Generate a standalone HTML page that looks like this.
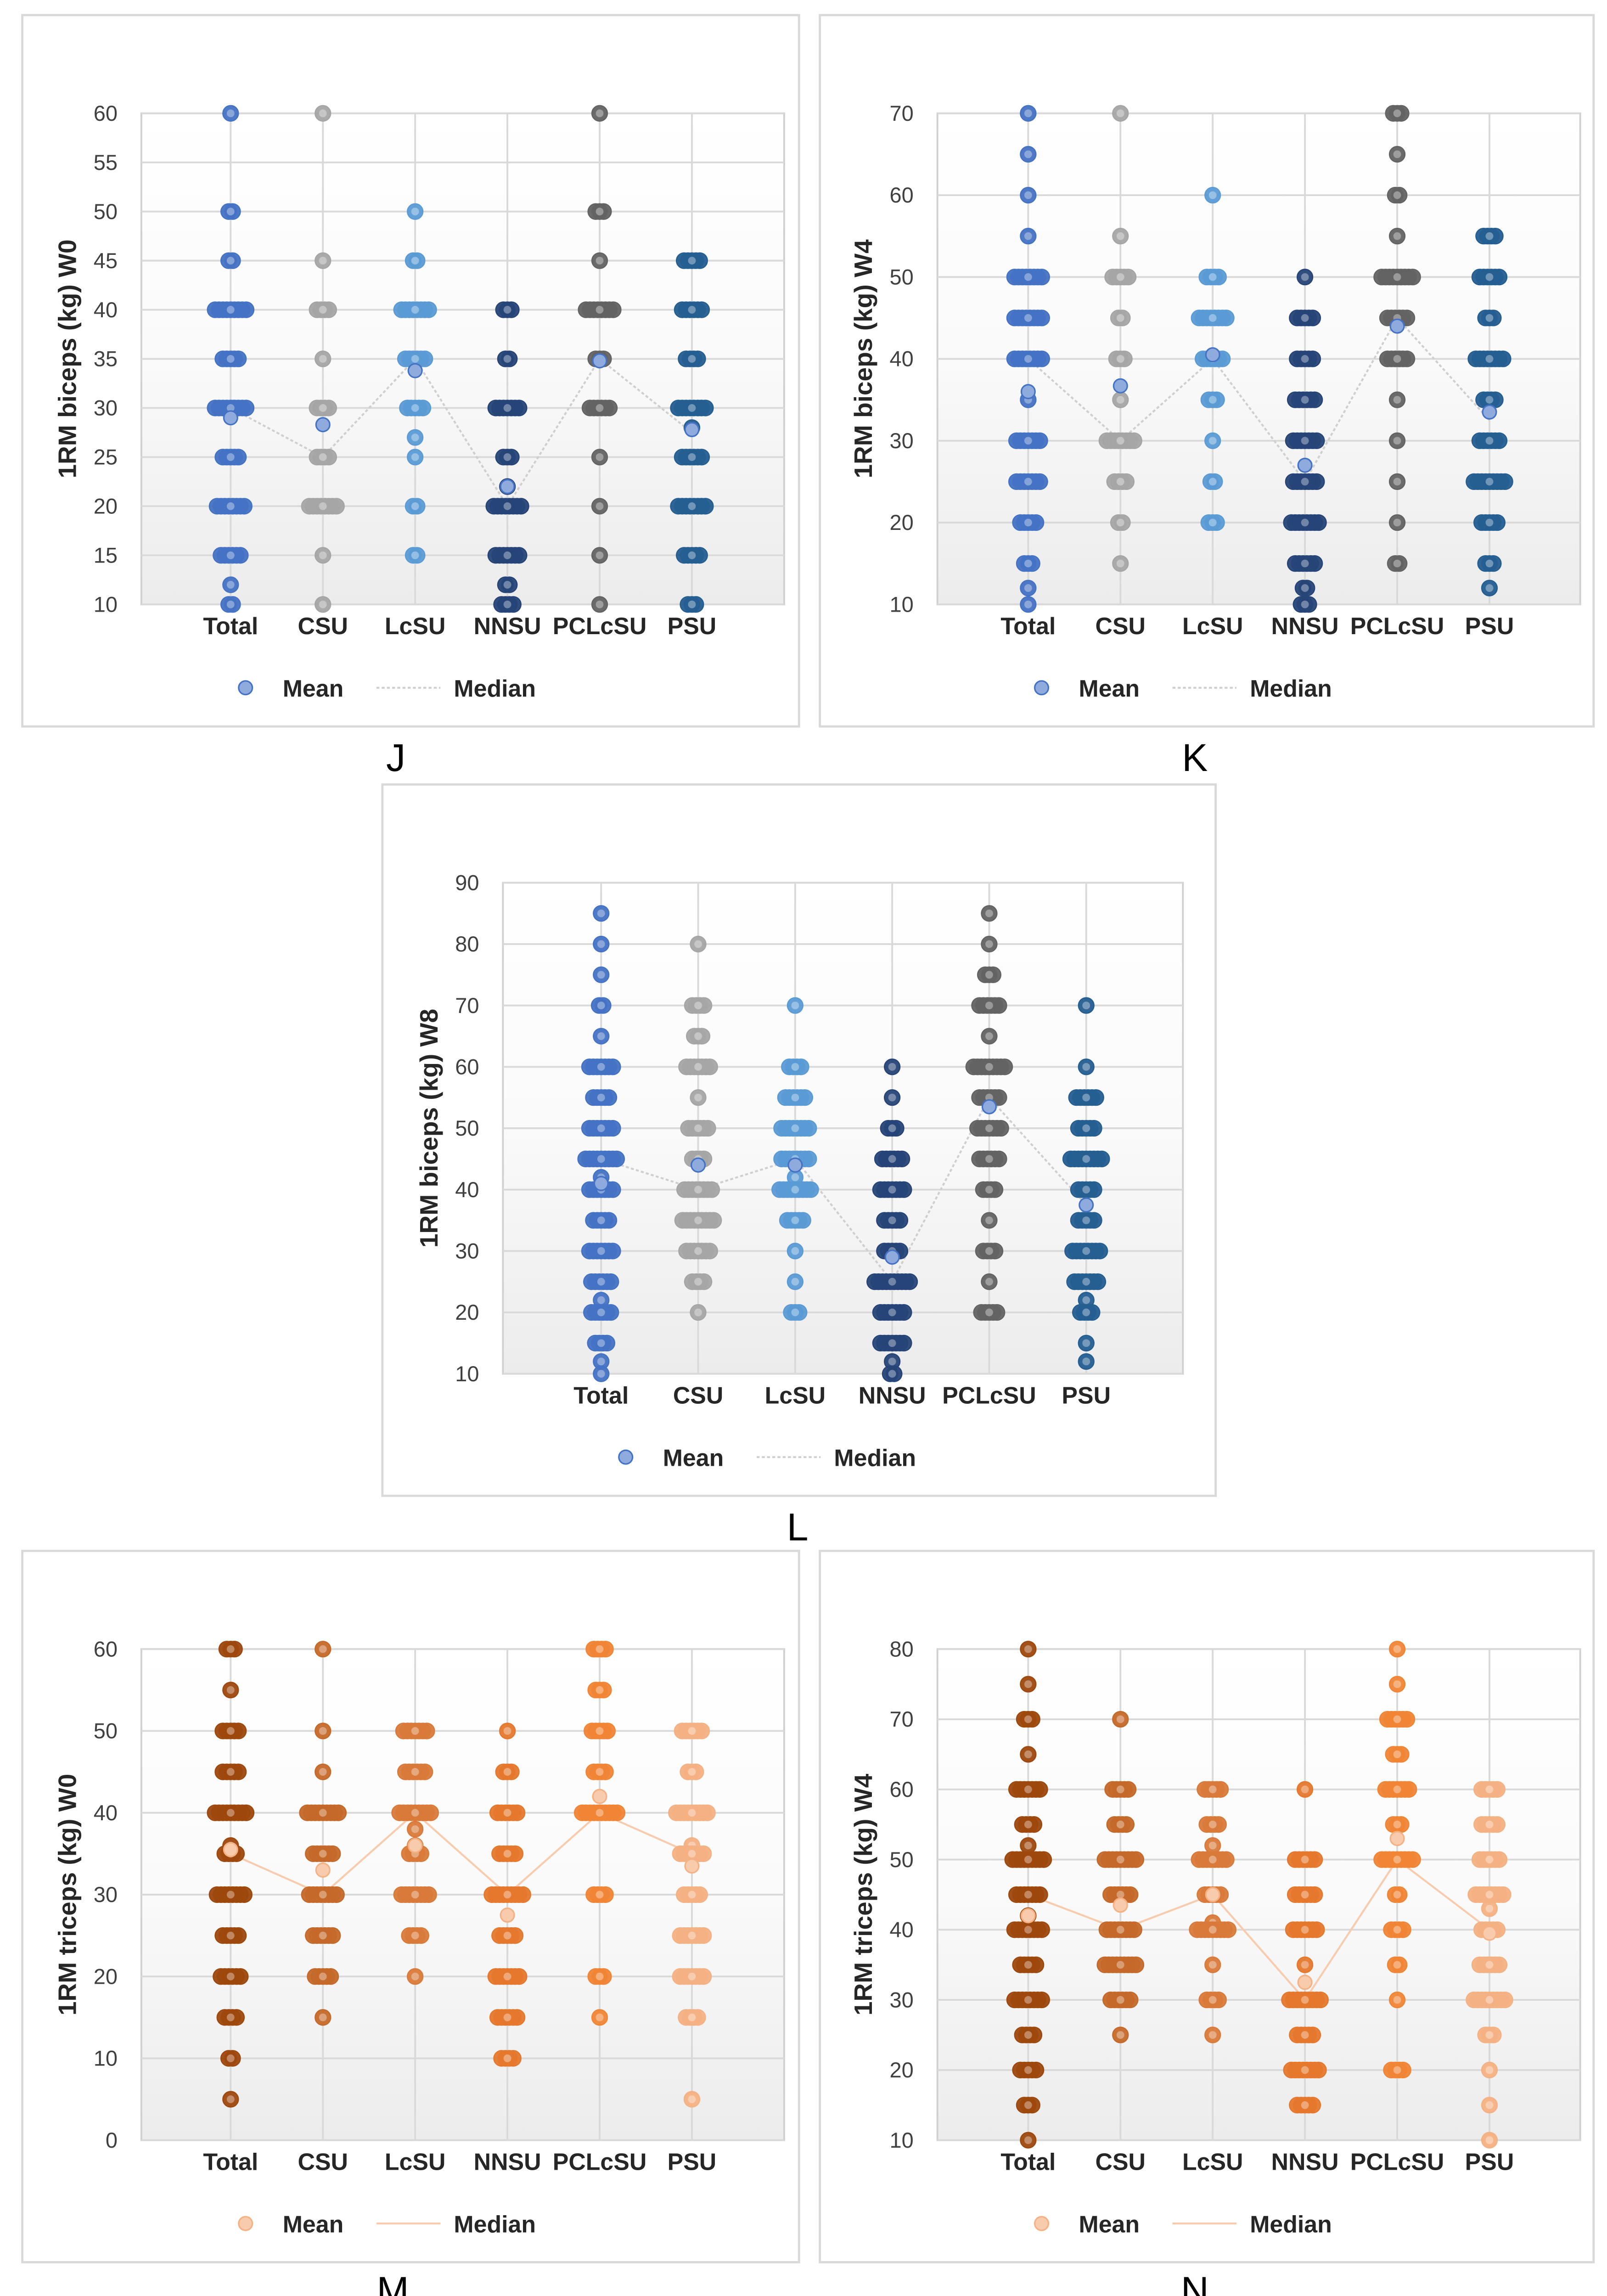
<!DOCTYPE html>
<html><head><meta charset="utf-8">
<style>
html,body{margin:0;padding:0;background:#fff;overflow:hidden;width:3500px;height:5076px;}
svg{display:block;position:absolute;left:0;top:0;}
text{font-family:"Liberation Sans",Arial,sans-serif;}
</style></head>
<body>
<svg id="fig" xmlns="http://www.w3.org/2000/svg" width="3500" height="5076" viewBox="0 0 1080 1566">
<defs>
<linearGradient id="bg" x1="0" y1="0" x2="0" y2="1">
<stop offset="0" stop-color="#ffffff"/><stop offset="0.5" stop-color="#fafafa"/><stop offset="1" stop-color="#ececec"/>
</linearGradient>
</defs>
</svg>
<script>
const categories = ["Total","CSU","LcSU","NNSU","PCLcSU","PSU"];
// clusters: "value:count" per category
const jClusters = [
 "60:1,50:2,45:2,40:9,35:5,30:9,25:5,20:8,15:6,12:1,10:2",
 "60:1,45:1,40:4,35:1,30:4,25:4,20:8,15:1,10:1",
 "50:1,45:2,40:8,35:6,30:5,27:1,25:1,20:2,15:2",
 "40:3,35:2,30:7,25:3,22:1,20:8,15:7,12:2,10:4",
 "60:1,50:3,45:1,40:8,35:3,30:6,25:1,20:1,15:1,10:1",
 "45:5,40:6,35:4,30:8,28:1,25:6,20:8,15:5,10:3"];
const jMeans = [29,28.3,33.8,22,34.8,27.8];
const jMedians = [30,25,35,20,35,27.5];
const kClusters = [
 "70:1,65:1,60:1,55:1,50:8,45:8,40:8,35:1,30:7,25:7,20:5,15:3,12:1,10:1",
 "70:1,55:1,50:5,45:2,40:3,35:1,30:8,25:4,20:2,15:1",
 "60:1,50:4,45:8,40:6,35:3,30:1,25:2,20:3",
 "50:1,45:5,40:5,35:6,30:7,25:7,20:8,15:6,12:2,10:3",
 "70:3,65:1,60:2,55:1,50:9,45:6,40:6,35:1,30:1,25:1,20:1,15:2",
 "55:4,50:6,45:3,40:8,35:4,30:6,25:9,20:5,15:3,12:1"];
const kMeans = [36,36.7,40.5,27,44,33.5];
const kMedians = [40,30,40,25,45,32.5];
const lClusters = [
 "85:1,80:1,75:1,70:2,65:1,60:7,55:5,50:7,45:9,42:1,40:7,35:5,30:7,25:6,22:1,20:6,15:4,12:1,10:1",
 "80:1,70:4,65:3,60:7,55:1,50:6,45:4,40:8,35:9,30:7,25:4,20:1",
 "70:1,60:4,55:6,50:8,45:8,42:1,40:9,35:5,30:1,25:1,20:3",
 "60:1,55:1,50:3,45:6,40:7,35:5,30:5,25:10,20:7,15:7,12:1,10:2",
 "85:1,80:1,75:3,70:6,65:1,60:9,55:6,50:7,45:6,40:4,35:1,30:4,25:1,20:5",
 "70:1,60:1,55:6,50:5,45:9,40:5,35:5,30:8,25:7,22:1,20:4,15:1,12:1"];
const lMeans = [41,44,44,29,53.5,37.5];
const lMedians = [45,40,45,25,55,37.5];
const mClusters = [
 "60:3,55:1,50:5,45:5,40:9,36:1,35:4,30:8,25:5,20:6,15:4,10:2,5:1",
 "60:1,50:1,45:1,40:9,35:6,30:8,25:6,20:5,15:1",
 "50:7,45:6,40:9,38:1,36:1,35:4,30:8,25:4,20:1",
 "50:1,45:3,40:6,35:5,30:9,25:5,20:7,15:6,10:4",
 "60:4,55:3,50:5,45:4,40:10,30:4,20:3,15:1",
 "50:6,45:3,40:9,36:1,35:7,30:5,25:7,20:7,15:4,5:1"];
const mMeans = [35.5,33,36,27.5,42,33.5];
const mMedians = [35,30,40,30,40,35];
const nClusters = [
 "80:1,75:1,70:3,65:1,60:7,55:4,52:1,50:9,45:7,42:1,40:8,35:5,30:8,25:4,20:5,15:3,10:1",
 "70:1,60:5,55:4,50:9,45:6,40:8,35:9,30:6,25:1",
 "60:5,55:4,52:1,50:8,45:5,41:1,40:9,35:1,30:4,25:1",
 "60:1,50:6,45:6,40:7,35:1,30:9,25:5,20:8,15:5",
 "80:1,75:1,70:6,65:3,60:7,55:3,50:9,45:2,40:4,35:2,30:1,20:4",
 "60:5,55:5,50:6,45:8,43:1,40:5,35:6,30:9,25:3,20:1,15:1,10:1"];
const nMeans = [42,43.5,45,32.5,53,39.5];
const nMedians = [45,40,45,30,50,40];

const BLUE = ["#4472c4","#a5a5a5","#5b9bd5","#264478","#636363","#255e91"];
const ORANGE = ["#9e480e","#c5692a","#d97a3a","#e5782d","#f08536","#f4b183"];

const panels = [
 {id:"j",title:"1RM biceps (kg) W0",clusters:jClusters,means:jMeans,medians:jMedians,min:10,max:60,step:5,
  fx:15,fy:10,fw:522,fh:478,px0:95,px1:527,py0:76,py1:406,c0:155,dx:62,letter:"J",lx:266,ly:518,colors:BLUE,tri:false},
 {id:"k",title:"1RM biceps (kg) W4",clusters:kClusters,means:kMeans,medians:kMedians,min:10,max:70,step:10,
  fx:551,fy:10,fw:520,fh:478,px0:630,px1:1062,py0:76,py1:406,c0:691,dx:62,letter:"K",lx:803,ly:518,colors:BLUE,tri:false},
 {id:"l",title:"1RM biceps (kg) W8",clusters:lClusters,means:lMeans,medians:lMedians,min:10,max:90,step:10,
  fx:257,fy:527,fw:560,fh:478,px0:338,px1:795,py0:593,py1:923,c0:404,dx:65.2,letter:"L",lx:536,ly:1035,colors:BLUE,tri:false},
 {id:"m",title:"1RM triceps (kg) W0",clusters:mClusters,means:mMeans,medians:mMedians,min:0,max:60,step:10,
  fx:15,fy:1042,fw:522,fh:478,px0:95,px1:527,py0:1108,py1:1438,c0:155,dx:62,letter:"M",lx:264,ly:1548,colors:ORANGE,tri:true},
 {id:"n",title:"1RM triceps (kg) W4",clusters:nClusters,means:nMeans,medians:nMedians,min:10,max:80,step:10,
  fx:551,fy:1042,fw:520,fh:478,px0:630,px1:1062,py0:1108,py1:1438,c0:691,dx:62,letter:"N",lx:803,ly:1548,colors:ORANGE,tri:true}
];

const NS="http://www.w3.org/2000/svg";
const svg=document.getElementById('fig');
function mk(tag,attrs,parent){const e=document.createElementNS(NS,tag);for(const k in attrs)e.setAttribute(k,attrs[k]);(parent||svg).appendChild(e);return e;}

panels.forEach(p=>{
 const g=mk('g',{});
 
 
 const y=v=>p.py1-(v-p.min)/(p.max-p.min)*(p.py1-p.py0);
 const x=i=>p.c0+i*p.dx;
 const fr=mk('rect',{x:p.fx,y:p.fy,width:p.fw,height:p.fh,fill:'#fff',stroke:'#d9d9d9','stroke-width':1.5},g);
 
 
 const pa=mk('rect',{x:p.px0,y:p.py0,width:p.px1-p.px0,height:p.py1-p.py0,fill:'url(#bg)',stroke:'#d0d0d0','stroke-width':1.2},g);
 
 
 for(let v=p.min;v<=p.max+1e-9;v+=p.step){
  mk('line',{x1:p.px0,x2:p.px1,y1:y(v),y2:y(v),stroke:'#d9d9d9','stroke-width':1.2},g);
  const t=mk('text',{x:p.px0-16,y:y(v)+5,'text-anchor':'end','font-size':14.5,fill:'#404040'},g);
  t.textContent=v;
  
  
 }
 categories.forEach((c,i)=>{
  mk('line',{x1:x(i),x2:x(i),y1:p.py0,y2:p.py1,stroke:'#d9d9d9','stroke-width':1.2},g);
  const t=mk('text',{x:x(i),y:p.py1+20,'text-anchor':'middle','font-size':16,'font-weight':'bold',fill:'#262626'},g);
  t.textContent=c;
  
  
 });
 const yt=mk('text',{x:0,y:0,transform:`translate(${p.px0-44},${(p.py0+p.py1)/2}) rotate(-90)`,'text-anchor':'middle','font-size':17,'font-weight':'bold',fill:'#262626'},g);
 yt.textContent=p.title;
 
 
 const medC=p.tri?'#f8cbad':'#cfcfcf';
 const ml=mk('polyline',{points:p.medians.map((m,i)=>x(i)+','+y(m)).join(' '),fill:'none',stroke:medC,'stroke-width':1.3,'stroke-dasharray':p.tri?'none':'2 1.5'},g);
 
 
 p.clusters.forEach((s,i)=>{
  const col=p.colors[i];
  s.split(',').forEach(pt=>{
   const [v,n]=pt.split(':').map(Number);
   const w=(n-1)*2.6;
   for(let k=0;k<n;k++){
    const cx=x(i)-w/2+k*2.6;
    const d=mk('circle',{cx:cx,cy:y(v),r:5.2,fill:col,stroke:col,'stroke-width':0.8,'fill-opacity':0.95},g);
    
    
   }
   const hl=mk('circle',{cx:x(i),cy:y(v),r:2.6,fill:'#ffffff','fill-opacity':0.35},g);
   
   
  });
 });
 const mFill=p.tri?'#f8cbad':'#8faadc', mStroke=p.tri?'#f4b183':'#4472c4';
 p.means.forEach((m,i)=>{
  const d=mk('circle',{cx:x(i),cy:y(m),r:4.6,fill:mFill,stroke:mStroke,'stroke-width':1},g);
  
  
 });
 const ly=p.py1+56, lx=(p.px0+p.px1)/2-151;
 const lg=mk('g',{},g);
 
 
 mk('circle',{cx:lx+5,cy:ly,r:4.6,fill:mFill,stroke:mStroke,'stroke-width':1},lg);
 const t1=mk('text',{x:lx+30,y:ly+6,'font-size':16,'font-weight':'bold',fill:'#262626'},lg);
 t1.textContent='Mean';
 
 
 mk('line',{x1:lx+93,x2:lx+136,y1:ly,y2:ly,stroke:medC,'stroke-width':1.3,'stroke-dasharray':p.tri?'none':'2 1.5'},lg);
 const t2=mk('text',{x:lx+145,y:ly+6,'font-size':16,'font-weight':'bold',fill:'#262626'},lg);
 t2.textContent='Median';
 
 
 const L=mk('text',{x:p.lx,y:p.ly,'text-anchor':'middle','font-size':26,fill:'#000','font-family':'Liberation Serif, serif'},svg);
 L.textContent=p.letter;
 
 
});
</script>
</body></html>
